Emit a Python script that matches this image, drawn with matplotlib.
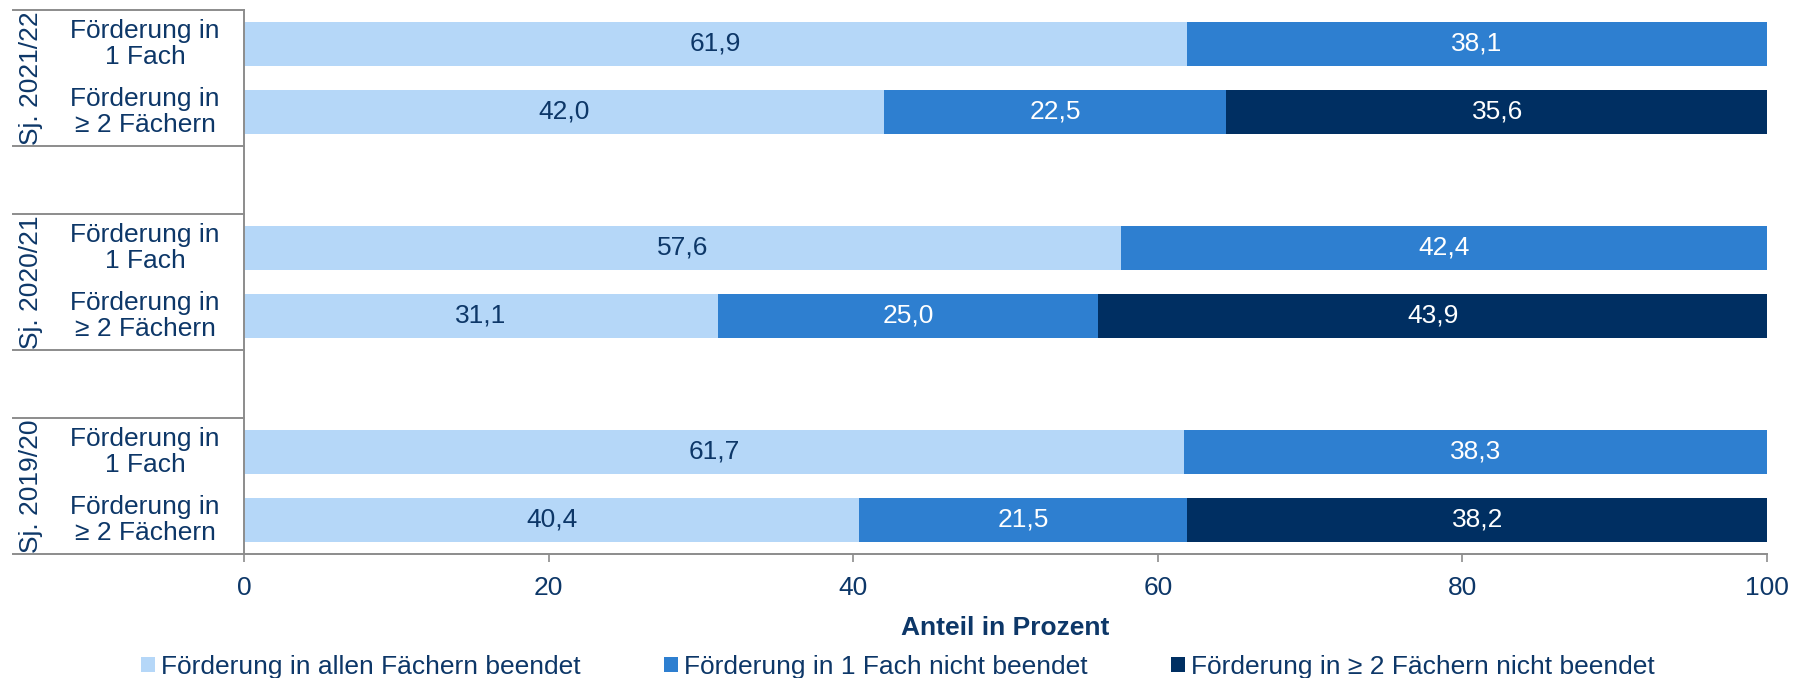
import matplotlib
matplotlib.use('Agg')
import matplotlib.pyplot as plt
import matplotlib.transforms as mtransforms
from matplotlib.patches import Patch
from matplotlib.lines import Line2D

plt.rcParams['font.family'] = ['Liberation Sans', 'DejaVu Sans']

# data
years = ['Sj. 2021/22', 'Sj. 2020/21', 'Sj. 2019/20']
row_labels = ['Förderung in\n1 Fach', 'Förderung in\n≥ 2 Fächern',
              'Förderung in\n1 Fach', 'Förderung in\n≥ 2 Fächern',
              'Förderung in\n1 Fach', 'Förderung in\n≥ 2 Fächern']
allen_beendet = [61.9, 42.0, 57.6, 31.1, 61.7, 40.4]
ein_fach_offen = [38.1, 22.5, 42.4, 25.0, 38.3, 21.5]
zwei_faecher_offen = [0, 35.6, 0, 43.9, 0, 38.2]
series_names = ['Förderung in allen Fächern beendet',
                'Förderung in 1 Fach nicht beendet',
                'Förderung in ≥ 2 Fächern nicht beendet']
xticks = [0, 20, 40, 60, 80, 100]

# styles
colors = ['#b5d7f8', '#2e7fd0', '#002f62']
label_colors = ['#0d3768', 'white', 'white']
navy = '#0d3768'
grey = '#8c8c8c'
fs = 19

W, H = 1793, 678
fig = plt.figure(figsize=(W / 100, H / 100), dpi=100)
ax = fig.add_axes([244 / W, (H - 554) / H, (1767 - 244) / W, (554 - 10) / H])

# slot positions: two rows per year, one empty slot between years
ypos = [0.5, 1.5, 3.5, 4.5, 6.5, 7.5]

left = [0] * len(ypos)
for vals, c, lc in zip([allen_beendet, ein_fach_offen, zwei_faecher_offen], colors, label_colors):
    ax.barh(ypos, vals, left=left, height=0.66, color=c, edgecolor='none')
    for y, l, v in zip(ypos, left, vals):
        if v > 0:
            ax.text(l + v / 2, y, f'{v:.1f}'.replace('.', ','), ha='center', va='center',
                    color=lc, fontsize=fs)
    left = [a + b for a, b in zip(left, vals)]

ax.set_xlim(0, 100)
ax.set_ylim(8, 0)
ax.set_xticks(xticks)
ax.set_xticklabels([str(t) for t in xticks])
ax.set_yticks([])
ax.tick_params(axis='x', direction='out', length=5.5, width=1.2, color=grey,
               labelsize=fs, labelcolor=navy, pad=10)
for s in ['top', 'right']:
    ax.spines[s].set_visible(False)
for s in ['left', 'bottom']:
    ax.spines[s].set_color(grey)
    ax.spines[s].set_linewidth(1.4)

ax.set_xlabel('Anteil in Prozent', fontsize=fs, fontweight='bold', color=navy, labelpad=12)

# category labels (multi level axis)
trans = mtransforms.blended_transform_factory(fig.transFigure, ax.transData)
for y, lab in zip(ypos, row_labels):
    ax.text(145 / W, y, lab, transform=trans, ha='center', va='center',
            fontsize=fs, color=navy, linespacing=1.1, clip_on=False)
for i, yr in enumerate(years):
    ax.text(31 / W, 3 * i + 1, yr, transform=trans, ha='center', va='center',
            rotation=90, fontsize=fs, color=navy, clip_on=False)
for y in [0, 2, 3, 5, 6, 8]:
    ax.add_line(Line2D([13 / W, 244 / W], [y, y], transform=trans, color=grey,
                       lw=1.4, clip_on=False))

handles = [Patch(facecolor=c, edgecolor='none') for c in colors]
fig.legend(handles, series_names, loc='center left', bbox_to_anchor=(141 / W, 11 / H),
           ncol=3, frameon=False, fontsize=fs, labelcolor=navy,
           handlelength=0.53, handleheight=0.53, handletextpad=0.23,
           columnspacing=3.15, borderpad=0, borderaxespad=0)

fig.savefig('out.png', dpi=100)
